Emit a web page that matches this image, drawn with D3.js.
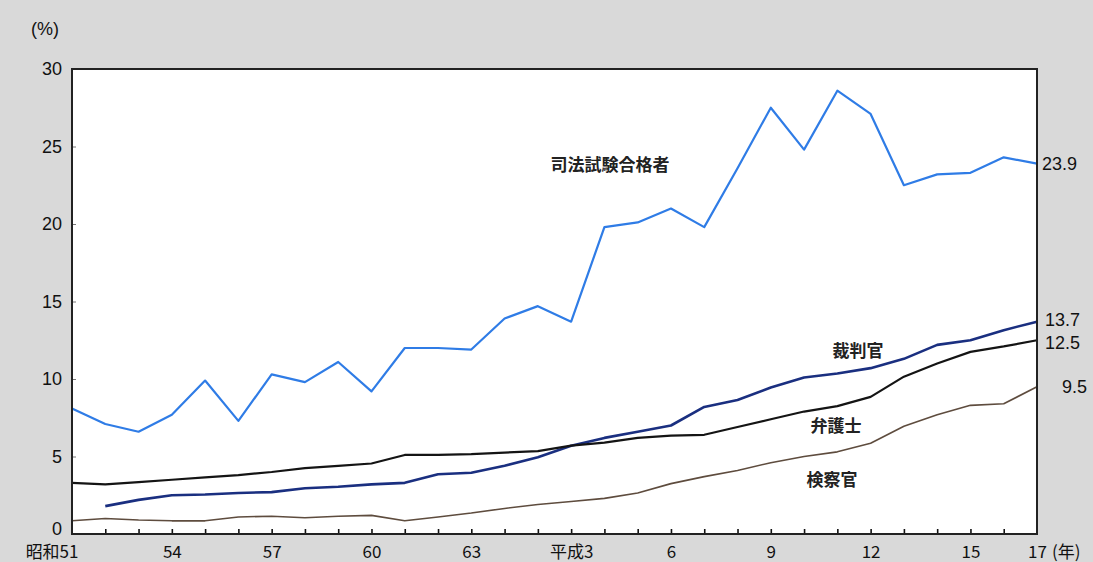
<!DOCTYPE html>
<meta charset="utf-8">
<style>
  body { margin: 0; background: #d9d9d9; }
  svg { display: block; }
</style>

<!-- Load d3.js -->
<script src="https://cdn.jsdelivr.net/npm/d3@7"></script>

<!-- Create a div where the graph will take place -->
<div id="my_dataviz"></div>

<script>

// years 昭和51 (1976) .. 平成17 (2005)
var years = [1976, 1977, 1978, 1979, 1980, 1981, 1982, 1983, 1984, 1985,
             1986, 1987, 1988, 1989, 1990, 1991, 1992, 1993, 1994, 1995,
             1996, 1997, 1998, 1999, 2000, 2001, 2002, 2003, 2004, 2005]

// x tick labels (only every 3rd year is labelled)
var tickYears  = [1976, 1979, 1982, 1985, 1988, 1991, 1994, 1997, 2000, 2003, 2005]
var tickLabels = ["昭和51", "54", "57", "60", "63", "平成3", "6", "9", "12", "15", "17"]

// y ticks
var yTicks = [0, 5, 10, 15, 20, 25, 30]

// share of women (%)
var shiho   = [8.1, 7.1, 6.6, 7.7, 9.9, 7.3, 10.3, 9.8, 11.1, 9.2,
               12.0, 12.0, 11.9, 13.9, 14.7, 13.7, 19.8, 20.1, 21.0, 19.8,
               23.6, 27.5, 24.8, 28.6, 27.1, 22.5, 23.2, 23.3, 24.3, 23.9]
var saiban  = [null, 1.8, 2.2, 2.5, 2.55, 2.65, 2.7, 2.95, 3.05, 3.2,
               3.3, 3.85, 3.95, 4.4, 4.95, 5.7, 6.2, 6.6, 7.0, 8.2,
               8.65, 9.45, 10.1, 10.35, 10.7, 11.3, 12.2, 12.5, 13.15, 13.7]
var bengo   = [3.3, 3.2, 3.35, 3.5, 3.65, 3.8, 4.0, 4.25, 4.4, 4.55,
               5.1, 5.1, 5.15, 5.25, 5.35, 5.7, 5.9, 6.2, 6.35, 6.4,
               6.9, 7.4, 7.9, 8.25, 8.85, 10.15, 11.0, 11.75, 12.1, 12.5]
var kensatsu = [0.85, 1.0, 0.9, 0.85, 0.85, 1.1, 1.15, 1.05, 1.15, 1.2,
                0.85, 1.1, 1.35, 1.65, 1.9, 2.1, 2.3, 2.65, 3.25, 3.7,
                4.1, 4.6, 5.0, 5.3, 5.85, 6.95, 7.7, 8.3, 8.4, 9.5]

var seriesNames = ["司法試験合格者", "裁判官", "弁護士", "検察官"]

// dimensions of the plot frame
var W = 1093, H = 562
var frame = {left: 72, right: 1037, top: 69, bottom: 534}

var Svg = d3.select("#my_dataviz")
  .append("svg")
    .attr("width", W)
    .attr("height", H)
    .style("font-family", "'Liberation Sans', Arial, sans-serif")

// white plot area
Svg.append("rect")
  .attr("x", frame.left)
  .attr("y", frame.top)
  .attr("width", frame.right - frame.left)
  .attr("height", frame.bottom - frame.top)
  .attr("fill", "#ffffff")

// scales
var x = d3.scaleLinear()
  .domain([years[0], years[years.length - 1]])
  .range([frame.left, frame.right])

var y = d3.scaleLinear()
  .domain([0, 30])
  .range([frame.bottom, frame.top])

// inner ticks on x axis (every year, pointing up)
Svg.append("g")
  .attr("transform", "translate(0," + frame.bottom + ")")
  .call(d3.axisBottom(x).tickValues(years.slice(1, -1)).tickSize(-5).tickFormat(""))
  .call(function(g) { g.select(".domain").remove() })
  .selectAll(".tick line").attr("stroke", "#111").attr("stroke-width", 1.6)

// inner ticks on y axis
Svg.append("g")
  .attr("transform", "translate(" + frame.left + ",0)")
  .call(d3.axisRight(y).tickValues(yTicks.slice(1, -1)).tickSize(4).tickFormat(""))
  .call(function(g) { g.select(".domain").remove() })
  .selectAll(".tick line").attr("stroke", "#777").attr("stroke-width", 1)

// y labels
var yg = Svg.append("g")
  .attr("transform", "translate(" + frame.left + ",0)")
  .call(d3.axisLeft(y).tickValues(yTicks).tickSize(0).tickPadding(10))
yg.select(".domain").remove()
yg.selectAll("text")
  .attr("font-size", "18px")
  .attr("font-family", "'Liberation Sans', Arial, sans-serif")
  .attr("fill", "#111")
  .attr("dy", function(d) { return d == 0 ? "0em" : "0.32em" })

// x labels
var xg = Svg.append("g")
  .attr("transform", "translate(0," + frame.bottom + ")")
  .call(d3.axisBottom(x).tickValues(tickYears).tickSize(0).tickPadding(12)
        .tickFormat(function(d, i) { return tickLabels[i] }))
xg.select(".domain").remove()
xg.selectAll("text")
  .attr("font-size", "17px")
  .attr("font-family", "'Noto Sans CJK JP', 'Liberation Sans', sans-serif")
  .attr("fill", "#111")
// first label hangs to the left of the axis
xg.select(".tick text")
  .attr("text-anchor", "end")
  .attr("dx", "6")

// unit labels
Svg.append("text")
  .attr("x", 1052)
  .attr("y", frame.bottom + 24)
  .text("(年)")
  .attr("font-size", "17px")
  .attr("font-family", "'Noto Sans CJK JP', sans-serif")
  .attr("fill", "#111")

Svg.append("text")
  .attr("x", 31)
  .attr("y", 35)
  .text("(%)")
  .attr("font-size", "18px")
  .attr("fill", "#111")

// lines
var lines = [
  {name: seriesNames[0], values: shiho,    color: "#2f7ce6", width: 2.2},
  {name: seriesNames[1], values: saiban,   color: "#1a2f80", width: 2.6},
  {name: seriesNames[2], values: bengo,    color: "#141414", width: 2.2},
  {name: seriesNames[3], values: kensatsu, color: "#5e4c3e", width: 1.6}
]

var line = d3.line()
  .defined(function(d) { return d != null })
  .x(function(d, i) { return x(years[i]) })
  .y(function(d) { return y(d) })

Svg.append("g")
  .selectAll("path")
  .data(lines)
  .enter()
  .append("path")
    .attr("d", function(d) { return line(d.values) })
    .attr("fill", "none")
    .attr("stroke", function(d) { return d.color })
    .attr("stroke-width", function(d) { return d.width })
    .attr("stroke-linejoin", "round")

// frame
Svg.append("path")
  .attr("d", "M" + frame.left + "," + frame.top + "H" + frame.right + "V" + frame.bottom + "H" + frame.left + "Z")
  .attr("fill", "none")
  .attr("stroke", "#222")
  .attr("stroke-width", 2)

// end values on the right
var endOffsets = [0, -2, 2, 0]
var endX = [1042, 1045, 1045, 1062]
Svg.append("g")
  .selectAll("text")
  .data(lines)
  .enter()
  .append("text")
    .attr("x", function(d, i) { return endX[i] })
    .attr("y", function(d, i) { return y(d.values[d.values.length - 1]) + endOffsets[i] })
    .attr("dy", "0.36em")
    .text(function(d) { return d3.format(".1f")(d.values[d.values.length - 1]) })
    .attr("font-size", "18px")
    .attr("fill", "#111")

// series names inside the plot
var nameX = [610, 858, 836, 832]
var nameY = [23.8, 11.8, 7.0, 3.5]
Svg.append("g")
  .selectAll("text")
  .data(lines)
  .enter()
  .append("text")
    .attr("x", function(d, i) { return nameX[i] })
    .attr("y", function(d, i) { return y(nameY[i]) })
    .attr("dy", "0.36em")
    .attr("text-anchor", "middle")
    .text(function(d) { return d.name })
    .attr("font-size", "17px")
    .attr("font-weight", "bold")
    .attr("font-family", "'Noto Sans CJK JP', sans-serif")
    .attr("fill", "#222")

</script>
